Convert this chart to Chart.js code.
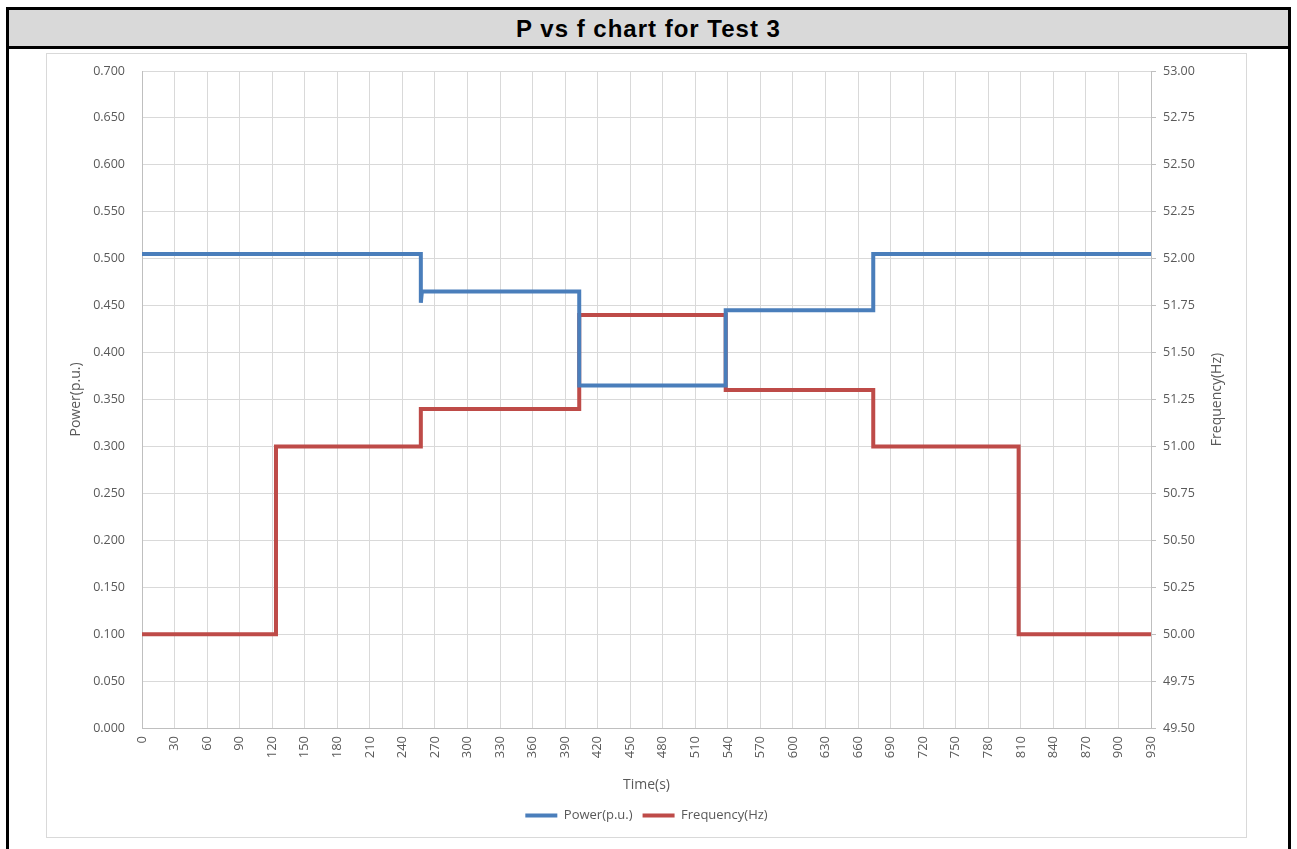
<!DOCTYPE html>
<html>
<head>
<meta charset="utf-8">
<script src="https://cdn.jsdelivr.net/npm/chart.js@4/dist/chart.umd.min.js"></script>
<style>
  body { margin: 0; background: #fff; width: 1297px; height: 849px; overflow: hidden; position: relative; }
  #frame { position: absolute; left: 6px; top: 7px; width: 1279px; height: 900px; border: 3px solid #000; }
  #head { height: 36px; background: #d9d9d9; border-bottom: 3px solid #000; text-align: center;
          font: bold 24px "Liberation Sans", Arial, sans-serif; letter-spacing: 1px; line-height: 37px; color: #000; }
  #box { position: absolute; left: 46px; top: 53px; width: 1199px; height: 783px; border: 1px solid #d9d9d9; background: #fff; }
</style>
</head>
<body>
<div id="frame"><div id="head">P vs f chart for Test 3</div></div>
<div id="box"><canvas id="myChart" width="1199" height="783"></canvas></div>
<script>
//Donnees (temps en s)
let powerTime = [0, 257, 257, 258, 403, 403, 538, 538, 674, 674, 930];
let powerPu = [0.505, 0.505, 0.453, 0.465, 0.465, 0.365, 0.365, 0.445, 0.445, 0.505, 0.505];
let freqTime = [0, 123.5, 123.5, 257, 257, 403, 403, 538, 538, 674, 674, 808, 808, 930];
let freqHz = [50.00, 50.00, 51.00, 51.00, 51.20, 51.20, 51.70, 51.70, 51.30, 51.30, 51.00, 51.00, 50.00, 50.00];

let seriesNames = ['Power(p.u.)', 'Frequency(Hz)'];
let seriesColors = ['#4a7ebb', '#be4b48'];

//Construction des points
let powerData = powerTime.map((t, i) => ({ x: t, y: powerPu[i] }));
let freqData = freqTime.map((t, i) => ({ x: t, y: freqHz[i] }));

const txt = '#595959';
const fam = '"Open Sans", "Noto Sans", sans-serif';

//Titre axe droit (lu de bas en haut comme dans Excel)
const rightTitle = {
    id: 'rightTitle',
    afterDraw(chart) {
        let sc = chart.scales.y2;
        let ctx = chart.ctx;
        ctx.save();
        ctx.translate(sc.right - 29, (sc.top + sc.bottom) / 2);
        ctx.rotate(-Math.PI / 2);
        ctx.fillStyle = txt;
        ctx.font = '14px ' + fam;
        ctx.textAlign = 'center';
        ctx.textBaseline = 'middle';
        ctx.fillText(seriesNames[1], 0, 0);
        ctx.restore();
    }
};

//largeur fixe des axes verticaux, sans marge haute/basse en plus
function fixY(s) {
    s.width = 95;
    s.paddingTop = 8;
    s.paddingBottom = 8;
}

const ctx = document.getElementById('myChart').getContext('2d');
const myChart = new Chart(ctx, {
    type: 'line',
    data: {
        datasets: [
            { label: seriesNames[0], data: powerData, yAxisID: 'y', borderColor: seriesColors[0], backgroundColor: seriesColors[0], borderWidth: 4, pointRadius: 0 },
            { label: seriesNames[1], data: freqData, yAxisID: 'y2', borderColor: seriesColors[1], backgroundColor: seriesColors[1], borderWidth: 4, pointRadius: 0 }
        ]
    },
    options: {
        responsive: false,
        animation: false,
        layout: { padding: { top: 17, bottom: 5, left: 0, right: 0 } },
        plugins: {
            legend: {
                position: 'bottom',
                labels: { usePointStyle: true, pointStyle: 'line', pointStyleWidth: 32, color: txt, font: { family: fam, size: 13 }, padding: 10 }
            },
            tooltip: { enabled: false }
        },
        scales: {
            x: {
                type: 'linear', min: 0, max: 930,
                ticks: { stepSize: 30, minRotation: 90, maxRotation: 90, padding: 8, color: txt, font: { family: fam, size: 13 } },
                grid: { color: '#d9d9d9', drawTicks: false },
                border: { color: '#bfbfbf' },
                title: { display: true, text: 'Time(s)', color: txt, font: { family: fam, size: 14 }, padding: { top: 4, bottom: 6 } },
                afterFit: (s) => { s.height = 71; }
            },
            y: {
                position: 'left', min: 0, max: 0.7,
                ticks: { stepSize: 0.05, padding: 17, color: txt, font: { family: fam, size: 12.5 }, callback: (v) => v.toFixed(3) },
                grid: { color: '#d9d9d9', drawTicks: false },
                border: { color: '#bfbfbf' },
                title: { display: true, text: 'Power(p.u.)', color: txt, font: { family: fam, size: 14 }, padding: { top: 21 } },
                afterFit: fixY
            },
            y2: {
                position: 'right', min: 49.5, max: 53,
                ticks: { stepSize: 0.25, padding: 7, color: txt, font: { family: fam, size: 12.5 }, callback: (v) => v.toFixed(2) },
                grid: { drawOnChartArea: false, color: '#bfbfbf', tickLength: 5 },
                border: { color: '#bfbfbf' },
                afterFit: fixY
            }
        }
    },
    plugins: [rightTitle]
});
</script>
</body>
</html>
